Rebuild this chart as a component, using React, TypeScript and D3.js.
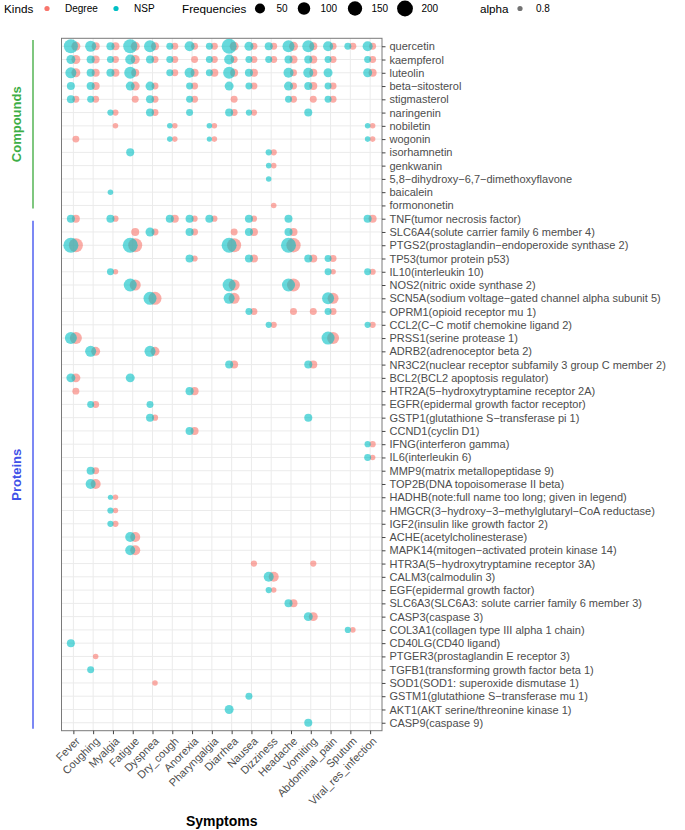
import React, { useEffect, useRef } from "react";
import * as d3 from "d3";

const symptoms = ["Fever", "Coughing", "Myalgia", "Fatigue", "Dyspnea", "Dry_cough", "Anorexia", "Pharyngalgia", "Diarrhea", "Nausea", "Dizziness", "Headache", "Vomiting", "Abdominal_pain", "Sputum", "Viral_res_infection"];

const compounds = ["quercetin", "kaempferol", "luteolin", "beta−sitosterol", "stigmasterol", "naringenin", "nobiletin", "wogonin", "isorhamnetin", "genkwanin", "5,8−dihydroxy−6,7−dimethoxyflavone", "baicalein", "formononetin"];

const proteins = [
  "TNF(tumor necrosis factor)",
  "SLC6A4(solute carrier family 6 member 4)",
  "PTGS2(prostaglandin−endoperoxide synthase 2)",
  "TP53(tumor protein p53)",
  "IL10(interleukin 10)",
  "NOS2(nitric oxide synthase 2)",
  "SCN5A(sodium voltage−gated channel alpha subunit 5)",
  "OPRM1(opioid receptor mu 1)",
  "CCL2(C−C motif chemokine ligand 2)",
  "PRSS1(serine protease 1)",
  "ADRB2(adrenoceptor beta 2)",
  "NR3C2(nuclear receptor subfamily 3 group C member 2)",
  "BCL2(BCL2 apoptosis regulator)",
  "HTR2A(5−hydroxytryptamine receptor 2A)",
  "EGFR(epidermal growth factor receptor)",
  "GSTP1(glutathione S−transferase pi 1)",
  "CCND1(cyclin D1)",
  "IFNG(interferon gamma)",
  "IL6(interleukin 6)",
  "MMP9(matrix metallopeptidase 9)",
  "TOP2B(DNA topoisomerase II beta)",
  "HADHB(note:full name too long; given in legend)",
  "HMGCR(3−hydroxy−3−methylglutaryl−CoA reductase)",
  "IGF2(insulin like growth factor 2)",
  "ACHE(acetylcholinesterase)",
  "MAPK14(mitogen−activated protein kinase 14)",
  "HTR3A(5−hydroxytryptamine receptor 3A)",
  "CALM3(calmodulin 3)",
  "EGF(epidermal growth factor)",
  "SLC6A3(SLC6A3: solute carrier family 6 member 3)",
  "CASP3(caspase 3)",
  "COL3A1(collagen type III alpha 1 chain)",
  "CD40LG(CD40 ligand)",
  "PTGER3(prostaglandin E receptor 3)",
  "TGFB1(transforming growth factor beta 1)",
  "SOD1(SOD1: superoxide dismutase 1)",
  "GSTM1(glutathione S−transferase mu 1)",
  "AKT1(AKT serine/threonine kinase 1)",
  "CASP9(caspase 9)",
];

const kinds = ["Degree", "NSP"];
const kindColors = ["#F8766D", "#00BFC4"];
const legendSizes = [50, 100, 150, 200];

// [target, symptom, Degree frequency, NSP frequency] (0 = absent)
const compoundCells: [string, string, number, number][] = [
  ["quercetin", "Fever", 32, 141], ["quercetin", "Coughing", 20, 67], ["quercetin", "Myalgia", 20, 20],
  ["quercetin", "Fatigue", 32, 141], ["quercetin", "Dyspnea", 20, 88], ["quercetin", "Dry_cough", 10, 10],
  ["quercetin", "Anorexia", 10, 48], ["quercetin", "Pharyngalgia", 10, 10], ["quercetin", "Diarrhea", 32, 172],
  ["quercetin", "Nausea", 10, 32], ["quercetin", "Dizziness", 10, 20], ["quercetin", "Headache", 32, 88],
  ["quercetin", "Vomiting", 20, 88], ["quercetin", "Abdominal_pain", 10, 48], ["quercetin", "Sputum", 10, 10],
  ["quercetin", "Viral_res_infection", 10, 48],
  ["kaempferol", "Fever", 32, 32], ["kaempferol", "Coughing", 20, 20], ["kaempferol", "Myalgia", 10, 10],
  ["kaempferol", "Fatigue", 32, 48], ["kaempferol", "Dyspnea", 10, 20], ["kaempferol", "Dry_cough", 10, 10],
  ["kaempferol", "Anorexia", 10, 0], ["kaempferol", "Pharyngalgia", 10, 10], ["kaempferol", "Diarrhea", 10, 48],
  ["kaempferol", "Nausea", 10, 10], ["kaempferol", "Dizziness", 10, 10], ["kaempferol", "Headache", 20, 20],
  ["kaempferol", "Vomiting", 20, 20], ["kaempferol", "Abdominal_pain", 10, 10], ["kaempferol", "Viral_res_infection", 10, 10],
  ["luteolin", "Fever", 32, 67], ["luteolin", "Coughing", 20, 20], ["luteolin", "Myalgia", 20, 20],
  ["luteolin", "Fatigue", 20, 88], ["luteolin", "Dry_cough", 10, 10], ["luteolin", "Anorexia", 20, 48],
  ["luteolin", "Pharyngalgia", 20, 10], ["luteolin", "Diarrhea", 20, 88], ["luteolin", "Nausea", 20, 20],
  ["luteolin", "Headache", 10, 48], ["luteolin", "Vomiting", 20, 48], ["luteolin", "Abdominal_pain", 0, 32],
  ["luteolin", "Viral_res_infection", 20, 32],
  ["beta−sitosterol", "Fever", 0, 20], ["beta−sitosterol", "Coughing", 20, 20], ["beta−sitosterol", "Fatigue", 32, 32],
  ["beta−sitosterol", "Dyspnea", 10, 32], ["beta−sitosterol", "Anorexia", 10, 10], ["beta−sitosterol", "Diarrhea", 0, 32],
  ["beta−sitosterol", "Nausea", 10, 10], ["beta−sitosterol", "Headache", 10, 32], ["beta−sitosterol", "Vomiting", 20, 20],
  ["beta−sitosterol", "Abdominal_pain", 10, 10],
  ["stigmasterol", "Fever", 10, 20], ["stigmasterol", "Coughing", 10, 10], ["stigmasterol", "Fatigue", 10, 0],
  ["stigmasterol", "Dyspnea", 10, 20], ["stigmasterol", "Anorexia", 10, 10], ["stigmasterol", "Diarrhea", 10, 0],
  ["stigmasterol", "Headache", 10, 10], ["stigmasterol", "Vomiting", 10, 0], ["stigmasterol", "Abdominal_pain", 10, 10],
  ["naringenin", "Myalgia", 5, 5], ["naringenin", "Dyspnea", 10, 20], ["naringenin", "Anorexia", 0, 10],
  ["naringenin", "Diarrhea", 10, 20], ["naringenin", "Nausea", 5, 5], ["naringenin", "Vomiting", 0, 20],
  ["nobiletin", "Myalgia", 2, 0], ["nobiletin", "Dry_cough", 2, 2], ["nobiletin", "Pharyngalgia", 2, 2],
  ["nobiletin", "Viral_res_infection", 2, 2],
  ["wogonin", "Fever", 10, 0], ["wogonin", "Dry_cough", 2, 2], ["wogonin", "Pharyngalgia", 2, 1],
  ["wogonin", "Viral_res_infection", 2, 2],
  ["isorhamnetin", "Fatigue", 0, 20], ["isorhamnetin", "Dizziness", 5, 5],
  ["genkwanin", "Dizziness", 2, 2],
  ["5,8−dihydroxy−6,7−dimethoxyflavone", "Dizziness", 0, 2],
  ["baicalein", "Myalgia", 0, 2],
  ["formononetin", "Dizziness", 2, 0],
];

const proteinCells: [string, string, number, number][] = [
  ["TNF", "Fever", 20, 20], ["TNF", "Myalgia", 5, 20], ["TNF", "Dry_cough", 20, 20], ["TNF", "Anorexia", 5, 20],
  ["TNF", "Pharyngalgia", 5, 20], ["TNF", "Nausea", 5, 20], ["TNF", "Headache", 0, 20], ["TNF", "Viral_res_infection", 20, 20],
  ["SLC6A4", "Fatigue", 20, 0], ["SLC6A4", "Dyspnea", 10, 32], ["SLC6A4", "Anorexia", 10, 20],
  ["SLC6A4", "Diarrhea", 10, 0], ["SLC6A4", "Nausea", 20, 20], ["SLC6A4", "Headache", 20, 20],
  ["PTGS2", "Fever", 141, 172], ["PTGS2", "Fatigue", 141, 172], ["PTGS2", "Diarrhea", 141, 172], ["PTGS2", "Headache", 150, 172],
  ["TP53", "Anorexia", 5, 20], ["TP53", "Nausea", 20, 20], ["TP53", "Vomiting", 20, 20], ["TP53", "Abdominal_pain", 10, 10],
  ["IL10", "Myalgia", 2, 10], ["IL10", "Abdominal_pain", 2, 10], ["IL10", "Viral_res_infection", 5, 10],
  ["NOS2", "Fatigue", 67, 113], ["NOS2", "Diarrhea", 67, 113], ["NOS2", "Headache", 113, 113],
  ["SCN5A", "Dyspnea", 113, 113], ["SCN5A", "Diarrhea", 67, 67], ["SCN5A", "Abdominal_pain", 67, 88],
  ["OPRM1", "Nausea", 10, 10], ["OPRM1", "Headache", 10, 0], ["OPRM1", "Vomiting", 10, 0], ["OPRM1", "Abdominal_pain", 10, 10],
  ["CCL2", "Dizziness", 5, 5], ["CCL2", "Viral_res_infection", 5, 5],
  ["PRSS1", "Fever", 88, 88], ["PRSS1", "Abdominal_pain", 88, 113],
  ["ADRB2", "Coughing", 32, 67], ["ADRB2", "Dyspnea", 32, 67],
  ["NR3C2", "Diarrhea", 20, 20], ["NR3C2", "Vomiting", 20, 20],
  ["BCL2", "Fever", 32, 32], ["BCL2", "Fatigue", 0, 32],
  ["HTR2A", "Fever", 10, 0], ["HTR2A", "Anorexia", 20, 20],
  ["EGFR", "Coughing", 10, 10], ["EGFR", "Dyspnea", 0, 10],
  ["GSTP1", "Dyspnea", 5, 20], ["GSTP1", "Vomiting", 0, 20],
  ["CCND1", "Anorexia", 20, 20],
  ["IFNG", "Viral_res_infection", 5, 5],
  ["IL6", "Viral_res_infection", 2, 10],
  ["MMP9", "Coughing", 10, 20],
  ["TOP2B", "Coughing", 48, 48],
  ["HADHB", "Myalgia", 2, 1],
  ["HMGCR", "Myalgia", 2, 5],
  ["IGF2", "Myalgia", 5, 5],
  ["ACHE", "Fatigue", 48, 48],
  ["MAPK14", "Fatigue", 48, 48],
  ["HTR3A", "Nausea", 5, 0], ["HTR3A", "Vomiting", 5, 0],
  ["CALM3", "Dizziness", 48, 48],
  ["EGF", "Dizziness", 2, 5],
  ["SLC6A3", "Headache", 20, 20],
  ["CASP3", "Vomiting", 32, 32],
  ["COL3A1", "Sputum", 2, 5],
  ["CD40LG", "Fever", 0, 20],
  ["PTGER3", "Coughing", 2, 0],
  ["TGFB1", "Coughing", 0, 10],
  ["SOD1", "Dyspnea", 2, 0],
  ["GSTM1", "Nausea", 0, 10],
  ["AKT1", "Diarrhea", 0, 32],
  ["CASP9", "Vomiting", 0, 20],
];

const FONT = "'Liberation Sans', Arial, Helvetica, sans-serif";

export default function App() {
  const ref = useRef<SVGSVGElement>(null);

  useEffect(() => {
    const svg = d3.select(ref.current);
    svg.selectAll("*").remove();
    const L = 61.5, R = 382, T = 38.3, B = 730.7;
    const key = (s: string) => s.split("(")[0];
    const rows = [...compounds, ...proteins];
    const labelOf = new Map(rows.map((r) => [key(r), r]));

    const x = d3.scalePoint<string>().domain(symptoms).range([L, R]).padding(0.6);
    const y = d3.scalePoint<string>().domain(rows.map(key)).range([T, B]).padding(0.6);
    const size = d3.scaleSqrt().domain([0, 220]).range([2.2, 8.2]);
    const color = d3.scaleOrdinal<string, string>().domain(kinds).range(kindColors);
    const dodge = d3.scalePoint<string>().domain(kinds).range([2.5, -2.5]);

    svg.append("rect").attr("width", 685).attr("height", 830).attr("fill", "#fff");

    const grid = svg.append("g");
    grid.selectAll("line.v").data(symptoms).join("line")
      .attr("x1", (d) => x(d)!).attr("x2", (d) => x(d)!).attr("y1", T).attr("y2", B)
      .attr("stroke", "#EBEBEB").attr("stroke-width", 1);
    grid.selectAll("line.h").data(y.domain()).join("line")
      .attr("y1", (d) => y(d)!).attr("y2", (d) => y(d)!).attr("x1", L).attr("x2", R)
      .attr("stroke", "#EBEBEB").attr("stroke-width", 1);

    type P = { target: string; symptom: string; kind: string; v: number };
    const pts: P[] = [];
    kinds.forEach((k, ki) => {
      [...compoundCells, ...proteinCells].forEach(([t, s, dv, nv]) => {
        const v = ki === 0 ? dv : nv;
        if (v > 0) pts.push({ target: t, symptom: s, kind: k, v });
      });
    });

    svg.append("g").selectAll("circle").data(pts).join("circle")
      .attr("cx", (d) => x(d.symptom)! + dodge(d.kind)!)
      .attr("cy", (d) => y(d.target)!)
      .attr("r", (d) => size(d.v))
      .attr("fill", (d) => color(d.kind))
      .attr("fill-opacity", 0.6);

    svg.append("rect").attr("x", L).attr("y", T).attr("width", R - L).attr("height", B - T)
      .attr("fill", "none").attr("stroke", "#7a7a7a").attr("stroke-width", 1);

    const yAxis = svg.append("g").attr("transform", `translate(${R},0)`)
      .call(d3.axisRight(y).tickSize(3.5).tickPadding(4).tickFormat((k) => labelOf.get(k) || k));
    yAxis.select(".domain").remove();
    yAxis.selectAll("line").attr("stroke", "#444");
    yAxis.selectAll("text").attr("fill", "#4D4D4D").style("font-size", "11px").style("font-family", FONT);

    const xAxis = svg.append("g").attr("transform", `translate(0,${B})`)
      .call(d3.axisBottom(x).tickSize(3.5));
    xAxis.select(".domain").remove();
    xAxis.selectAll("line").attr("stroke", "#444");
    xAxis.selectAll("text")
      .attr("fill", "#4D4D4D").style("font-size", "11px").style("font-family", FONT)
      .attr("text-anchor", "end").attr("x", 0).attr("y", 0).attr("dy", "0.72em")
      .attr("transform", "translate(1,5.5) rotate(-45)");

    svg.append("text").attr("x", (L + R) / 2).attr("y", 826).attr("text-anchor", "middle")
      .style("font-family", FONT).style("font-size", "14px").style("font-weight", "bold").text("Symptoms");

    // side annotations
    const sideY0 = y("quercetin")! - 6.2, sideY1 = y("formononetin")! + 3;
    const sideY2 = y("TNF")! + 2, sideY3 = y("CASP9")! + 6;
    svg.append("line").attr("x1", 33).attr("x2", 33).attr("y1", sideY0).attr("y2", sideY1)
      .attr("stroke", "#55B555").attr("stroke-width", 1.5);
    svg.append("line").attr("x1", 33).attr("x2", 33).attr("y1", sideY2).attr("y2", sideY3)
      .attr("stroke", "#5060F0").attr("stroke-width", 1.5);
    svg.append("text").attr("transform", `translate(20.5,${(sideY0 + sideY1) / 2}) rotate(-90)`)
      .attr("text-anchor", "middle").style("font-family", FONT).style("font-size", "13px")
      .style("font-weight", "bold").attr("fill", "#3DAE46").text("Compounds");
    svg.append("text").attr("transform", `translate(20.5,${(sideY2 + sideY3) / 2}) rotate(-90)`)
      .attr("text-anchor", "middle").style("font-family", FONT).style("font-size", "13px")
      .style("font-weight", "bold").attr("fill", "#3F51E8").text("Proteins");

    // legend
    const lg = svg.append("g").style("font-family", FONT);
    const ly = 8.5;
    lg.append("text").attr("x", 4).attr("y", ly + 4).style("font-size", "11.7px").text("Kinds");
    const kindX = [47, 116];
    kinds.forEach((k, i) => {
      lg.append("circle").attr("cx", kindX[i]).attr("cy", ly).attr("r", 2.6)
        .attr("fill", color(k));
      lg.append("text").attr("x", kindX[i] + 18).attr("y", ly + 3.6).style("font-size", "10px").text(k);
    });
    lg.append("text").attr("x", 182).attr("y", ly + 4).style("font-size", "11.7px").text("Frequencies");
    const sizeX = [260, 304, 355, 405];
    legendSizes.forEach((s, i) => {
      lg.append("circle").attr("cx", sizeX[i]).attr("cy", ly).attr("r", size(s)).attr("fill", "#000");
      lg.append("text").attr("x", sizeX[i] + 16.5).attr("y", ly + 3.6).style("font-size", "10px").text(String(s));
    });
    lg.append("text").attr("x", 480).attr("y", ly + 4).style("font-size", "11.7px").text("alpha");
    lg.append("circle").attr("cx", 520).attr("cy", ly).attr("r", 2.6).attr("fill", "#000").attr("fill-opacity", 0.55);
    lg.append("text").attr("x", 536).attr("y", ly + 3.6).style("font-size", "10px").text("0.8");
  }, []);

  return (
    <svg ref={ref} width={685} height={830}
      style={{ position: "absolute", left: 0, top: 0, background: "#fff" }} />
  );
}
